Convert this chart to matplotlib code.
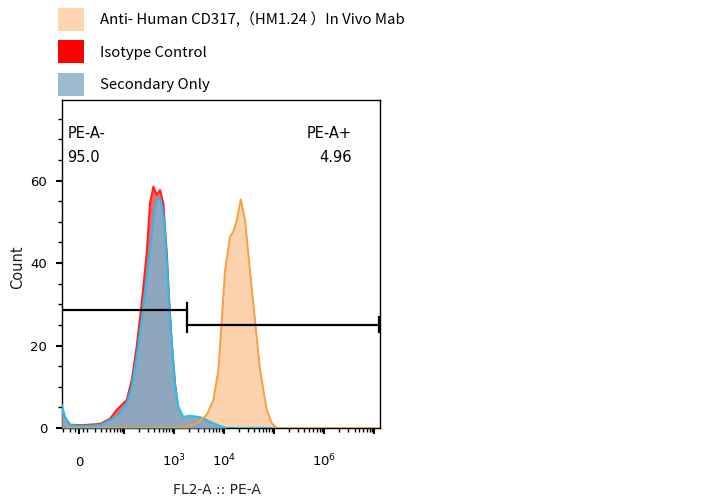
import numpy as np
import matplotlib
matplotlib.use('Agg')
import matplotlib.pyplot as plt
from matplotlib.patches import Patch
from matplotlib.ticker import FixedLocator, FixedFormatter

# Histogram traces (intensity, count)
anti_x = [-21.9, 1318, 2840, 4500, 6100, 7660, 8950, 10400, 13100, 15270,
          17840, 21470, 26160, 32900, 41450, 52100, 70900, 89200, 112300, 1.29e7]
anti_y = [0, 0, 1.1, 3.2, 6.8, 14, 26, 38, 46.4, 47.6,
          50.4, 55.4, 50.4, 38, 26, 14, 4.4, 1.2, 0, 0]

iso_x = [-21.9, -17.1, -10.5, 5.2, 28.7, 49.4, 69.6, 112.6, 142, 179, 226, 285,
         332, 387, 452, 526, 612, 716, 806, 912, 1048, 1220, 1535, 2430, 3850,
         6000, 9500, 1.29e7]
iso_y = [4.8, 2.5, 0.8, 0.7, 1.0, 2.2, 4.4, 6.8, 11.6, 19.7, 30.3, 42.4,
         54.5, 58.5, 56.5, 57.7, 54.5, 42.4, 30.3, 19.7, 10.9, 4.4, 2.4, 2.7, 2.4,
         0.7, 0, 0]

sec_x = [-21.9, -17.1, -10.5, 5.2, 28.7, 58.7, 81.6, 112.6, 142, 179, 226, 285,
         359, 418, 465, 543, 632, 736, 832, 942, 1048, 1220, 1535, 2090, 3310,
         5240, 8290, 11260, 1.29e7]
sec_y = [5.6, 2.7, 0.7, 0.5, 0.7, 2.3, 3.5, 6, 10, 17.3, 26, 36,
         46.4, 53.6, 55.7, 55.3, 50.4, 38.3, 26, 17.3, 10, 5.2, 2.7, 3, 2.6,
         1.5, 0.5, 0, 0]

# gates
gate_left = -21.9
gate_split = 1780
gate_neg_y = 28.6
gate_pos_y = 25.0
gate_right = 1.24e7

labels = ['Anti- Human CD317,（HM1.24 ）In Vivo Mab', 'Isotype Control', 'Secondary Only']

A = 12.6
def fwd(x):
    return np.arcsinh(np.asarray(x) / (2 * A)) / np.log(10)

def inv(p):
    return 2 * A * np.sinh(np.asarray(p) * np.log(10))

plt.rcParams['font.family'] = 'DejaVu Sans'

fig = plt.figure(figsize=(7.07, 5.03), dpi=100)
ax = fig.add_axes([0.0873, 0.149, 0.4502, 0.652])
ax.set_xscale('function', functions=(fwd, inv))

ax.fill_between(anti_x, anti_y, color='#FCD2AC', lw=0, zorder=1)
ax.fill_between(iso_x, iso_y, color='#FF4A4A', alpha=0.85, lw=0, zorder=2)
ax.plot(iso_x, iso_y, color='#FF2020', lw=1.5, zorder=3)
ax.fill_between(sec_x, sec_y, color='#89AAC2', alpha=0.96, lw=0, zorder=4)
ax.plot(sec_x, sec_y, color='#1EC3F2', lw=1.6, alpha=0.9, zorder=5)
ax.plot(anti_x, anti_y, color='#F7A042', lw=1.4, zorder=6)

# gate markers
ax.plot([gate_left, gate_split], [gate_neg_y, gate_neg_y], color='black', lw=1.6, zorder=7)
ax.plot([gate_split, gate_split], [gate_neg_y - 1.8, gate_neg_y + 1.8], color='black', lw=1.6, zorder=7)
ax.plot([gate_split, gate_right], [gate_pos_y, gate_pos_y], color='black', lw=1.6, zorder=7)
ax.plot([gate_split, gate_split], [gate_pos_y - 1.8, gate_pos_y + 1.8], color='black', lw=1.6, zorder=7)
ax.plot([gate_right, gate_right], [gate_pos_y - 1.8, gate_pos_y + 1.8], color='black', lw=1.6, zorder=7)

ax.text(0.017, 0.899, 'PE-A-', transform=ax.transAxes, fontsize=10.5, va='center', ha='left')
ax.text(0.017, 0.826, '95.0', transform=ax.transAxes, fontsize=10.5, va='center', ha='left')
ax.text(0.910, 0.899, 'PE-A+', transform=ax.transAxes, fontsize=10.5, va='center', ha='right')
ax.text(0.910, 0.826, '4.96', transform=ax.transAxes, fontsize=10.5, va='center', ha='right')

ax.set_xlim(-21.9, 1.29e7)
ax.set_ylim(0, 79.5)

# x ticks
xmaj = [0, 1e2, 1e3, 1e4, 1e5, 1e6, 1e7]
xmaj_lab = ['0', '', '$10^3$', '$10^4$', '', '$10^6$', '']
xmin = [-20, -10, -5, 5, 10] + list(range(20, 100, 10))
for d in range(2, 7):
    xmin += [k * 10 ** d for k in range(2, 10)]
ax.xaxis.set_major_locator(FixedLocator(xmaj))
ax.xaxis.set_major_formatter(FixedFormatter(xmaj_lab))
ax.xaxis.set_minor_locator(FixedLocator(xmin))
ax.xaxis.set_minor_formatter(FixedFormatter([]))
ax.tick_params(axis='x', which='major', direction='out', length=4.5, width=1.5, labelsize=9.5, pad=23)
ax.tick_params(axis='x', which='minor', direction='out', length=2.8, width=1.0)
for t in ax.get_xticklabels():
    t.set_verticalalignment('baseline')

ax.set_yticks([0, 20, 40, 60])
ax.set_yticks(np.arange(5, 80, 5), minor=True)
ax.tick_params(axis='y', which='major', direction='out', length=4.5, width=1.5, labelsize=9.5, pad=6)
ax.tick_params(axis='y', which='minor', direction='out', length=3, width=1.0)

for s in ax.spines.values():
    s.set_linewidth(1.0)
    s.set_color('black')

ax.set_xlabel('FL2-A :: PE-A', fontsize=10, color='#222222')
ax.xaxis.set_label_coords(0.487, -0.168)
ax.set_ylabel('Count', fontsize=10.5, color='#222222')
ax.yaxis.set_label_coords(-0.115, 0.49)

handles = [Patch(facecolor='#FFD5B0', edgecolor='none'),
           Patch(facecolor='#FF0000', edgecolor='none'),
           Patch(facecolor='#9BBACD', edgecolor='none')]
fig.legend(handles, labels, loc='upper left', bbox_to_anchor=(58 / 707, 1 - 8 / 503),
           frameon=False, borderpad=0, borderaxespad=0, handlelength=1.74, handleheight=1.98,
           handletextpad=1.08, labelspacing=0.64,
           prop={'family': ['Noto Sans CJK SC', 'DejaVu Sans'], 'size': 10.75, 'weight': 'medium'})

fig.savefig('out.png', dpi=100, facecolor='white')
